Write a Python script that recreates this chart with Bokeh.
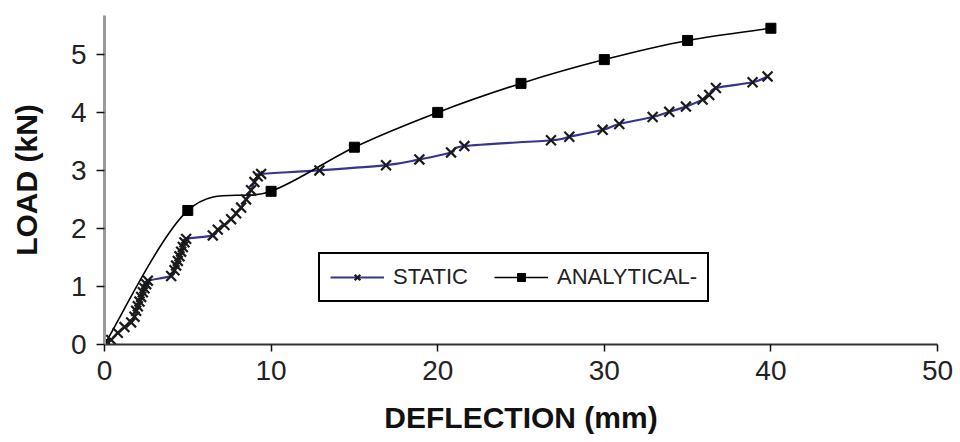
import numpy as np
from bokeh.plotting import figure
from bokeh.models import Range1d, FixedTicker, Legend, LegendItem, ColumnDataSource
from bokeh.embed import file_html
from bokeh.resources import INLINE

# Measured load-deflection response (static test)
static_defl = [0.0, 0.4, 0.8, 1.2, 1.6, 1.8, 1.9, 2.0, 2.1, 2.2, 2.3, 2.4, 2.5, 2.6,
               4.0, 4.2, 4.3, 4.4, 4.5, 4.6, 4.7, 4.8, 4.9,
               6.5, 6.8, 7.2, 7.6, 7.9, 8.2, 8.5, 8.8, 9.0, 9.2, 9.4,
               12.9, 16.9, 18.9, 20.8, 21.6, 26.8, 27.9, 29.9, 30.9, 32.9, 33.9,
               34.9, 35.9, 36.3, 36.7, 38.9, 39.8]
static_load = [0.0, 0.08, 0.2, 0.3, 0.38, 0.48, 0.58, 0.66, 0.74, 0.82, 0.9, 0.97, 1.04, 1.1,
               1.18, 1.28, 1.36, 1.44, 1.52, 1.6, 1.68, 1.76, 1.82,
               1.88, 1.98, 2.06, 2.16, 2.26, 2.36, 2.5, 2.66, 2.8, 2.9, 2.94,
               3.0, 3.09, 3.19, 3.31, 3.42, 3.52, 3.58, 3.70, 3.80, 3.92, 4.01,
               4.10, 4.22, 4.30, 4.42, 4.52, 4.62]

# Analytical prediction
analytical_defl = [0, 5, 10, 15, 20, 25, 30, 35, 40]
analytical_load = [0.0, 2.31, 2.64, 3.40, 4.0, 4.5, 4.91, 5.24, 5.45]

x_ticks = [0, 10, 20, 30, 40, 50]
y_ticks = [0, 1, 2, 3, 4, 5]


def smooth_segments(xs, ys):
    """Cubic Bezier segments (Catmull-Rom style) passing through every point."""
    x = np.asarray(xs, dtype=float)
    y = np.asarray(ys, dtype=float)
    n = len(x)
    xp = np.concatenate([[x[0]], x, [x[-1]]])
    yp = np.concatenate([[y[0]], y, [y[-1]]])
    i = np.arange(n - 1)
    x0, y0 = x[i], y[i]
    x1, y1 = x[i + 1], y[i + 1]
    cx0 = x0 + (xp[i + 2] - xp[i]) / 6.0
    cy0 = y0 + (yp[i + 2] - yp[i]) / 6.0
    cx1 = x1 - (xp[i + 3] - xp[i + 1]) / 6.0
    cy1 = y1 - (yp[i + 3] - yp[i + 1]) / 6.0
    return ColumnDataSource(dict(x0=x0, y0=y0, x1=x1, y1=y1,
                                 cx0=cx0, cy0=cy0, cx1=cx1, cy1=cy1))


p = figure(width=960, height=442, output_backend="svg", toolbar_location=None,
           x_range=Range1d(0, 50), y_range=Range1d(0, 5.67),
           min_border_left=104, min_border_right=23,
           min_border_top=15, min_border_bottom=98,
           background_fill_color="white", border_fill_color="white")
p.outline_line_color = None
p.grid.visible = False

FONT = "Liberation Sans"

# axes
for ax in (p.xaxis[0], p.yaxis[0]):
    ax.minor_tick_line_color = None
    ax.major_tick_in = 0
    ax.major_tick_line_color = "#111111"
    ax.major_tick_line_width = 1.5
    ax.major_label_text_font = FONT
    ax.major_label_text_font_size = "28px"
    ax.major_label_text_color = "#222222"
    ax.axis_label_text_font = FONT
    ax.axis_label_text_font_size = "30px"
    ax.axis_label_text_font_style = "bold"
    ax.axis_label_text_color = "#111111"

p.xaxis.ticker = FixedTicker(ticks=x_ticks)
p.yaxis.ticker = FixedTicker(ticks=y_ticks)
p.xaxis.axis_label = "DEFLECTION (mm)"
p.yaxis.axis_label = "LOAD (kN)"
p.xaxis.axis_line_color = "#333333"
p.xaxis.axis_line_width = 2
p.yaxis.axis_line_color = "#9a9a9a"
p.yaxis.axis_line_width = 3
p.xaxis.major_tick_out = 7
p.yaxis.major_tick_out = 8
p.xaxis.major_label_standoff = 9
p.yaxis.major_label_standoff = 10
p.xaxis.axis_label_standoff = 18
p.yaxis.axis_label_standoff = 25

# static series: smooth navy line with x markers
s_src = smooth_segments(static_defl, static_load)
s_line = p.bezier(x0="x0", y0="y0", x1="x1", y1="y1", cx0="cx0", cy0="cy0",
                  cx1="cx1", cy1="cy1", source=s_src,
                  line_color="#35358f", line_width=2.2)

# analytical series: smooth black line with square markers
a_src = smooth_segments(analytical_defl, analytical_load)
a_line = p.bezier(x0="x0", y0="y0", x1="x1", y1="y1", cx0="cx0", cy0="cy0",
                  cx1="cx1", cy1="cy1", source=a_src,
                  line_color="black", line_width=1.6)
a_pts = p.scatter(analytical_defl, analytical_load, marker="square", size=10,
                  fill_color="black", line_color="black")

s_pts = p.scatter(static_defl, static_load, marker="x", size=14,
                  line_color="#1a1a1a", line_width=2.2)

legend = Legend(items=[LegendItem(label="STATIC", renderers=[s_line, s_pts]),
                       LegendItem(label="ANALYTICAL-", renderers=[a_line, a_pts])],
                orientation="horizontal", location=(214, 42))
legend.label_text_font = FONT
legend.label_text_font_size = "22px"
legend.label_text_color = "#222222"
legend.border_line_color = "black"
legend.border_line_alpha = 1.0
legend.border_line_width = 2.5
legend.background_fill_color = "white"
legend.background_fill_alpha = 1
legend.glyph_width = 54
legend.glyph_height = 20
legend.label_height = 20
legend.label_standoff = 9
legend.spacing = 26
legend.padding = 10
legend.margin = 0
p.add_layout(legend, "center")

open("out.html", "w").write(file_html(p, INLINE))
